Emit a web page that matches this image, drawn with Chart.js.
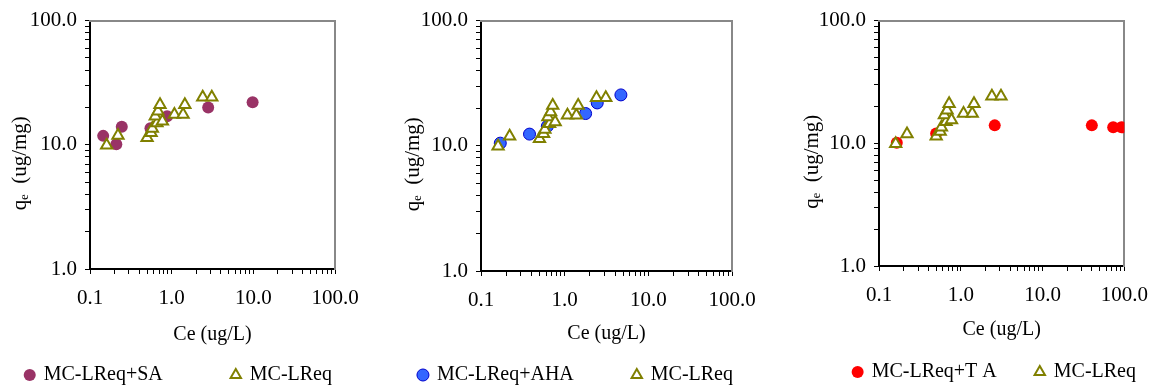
<!DOCTYPE html>
<html>
<head>
    <meta charset="UTF-8">
    <title>MC-LR adsorption isotherms</title>
    <script src="https://cdn.jsdelivr.net/npm/chart.js@4.4.1/dist/chart.umd.min.js"></script>
    <style type="text/css">
        body { margin: 0; background: #fff; }
        #wrap { position: relative; width: 1160px; height: 389px; }
        #wrap canvas { position: absolute; top: 0; }
    </style>
</head>
<body>

<div id="wrap">
    <canvas id="chartSA" width="390" height="389" style="left: 0px;"></canvas>
    <canvas id="chartAHA" width="380" height="389" style="left: 390px;"></canvas>
    <canvas id="chartTA" width="390" height="389" style="left: 770px;"></canvas>
</div>

<script>
    // axis decades and their labels
    const xDecades = [0.1, 1, 10, 100];
    const xTickLabels = ['0.1', '1.0', '10.0', '100.0'];
    const yDecades = [1, 10, 100];
    const yTickLabels = ['1.0', '10.0', '100.0'];

    // MC-LReq (same reference series in every panel)
    const lreqCe = [0.16, 0.22, 0.50, 0.56, 0.58, 0.66, 0.63, 0.68, 0.72, 0.77, 1.08, 1.38, 1.45, 2.4, 3.1];
    const lreqQe = [9.9, 11.9, 11.4, 12.5, 13.5, 15.0, 17.0, 18.6, 21.0, 15.5, 17.5, 17.5, 21.0, 24.2, 24.2];

    // MC-LReq+SA
    const saCe = [0.145, 0.21, 0.245, 0.55, 0.88, 2.8, 9.8];
    const saQe = [11.8, 10.1, 14.0, 13.6, 17.0, 20.0, 22.0];

    // MC-LReq+AHA
    const ahaCe = [0.17, 0.38, 0.62, 1.78, 2.45, 4.7];
    const ahaQe = [10.5, 12.4, 14.3, 18.1, 22.0, 25.5];

    // MC-LReq+TA
    const taCe = [0.165, 0.5, 2.6, 40, 73, 92];
    const taQe = [10.1, 12.0, 14.0, 14.0, 13.5, 13.5];

    const seriesLabels = ['MC-LReq+SA', 'MC-LReq+AHA', 'MC-LReq+T A', 'MC-LReq'];

    const FONT = 'Liberation Serif, Times New Roman, serif';

    function toPoints(xs, ys) {
        return xs.map((x, i) => ({ x: x, y: ys[i] }));
    }

    // 1..9 x each decade, like the original log axes
    function logTicks(decades) {
        const ticks = [];
        for (let i = 0; i < decades.length - 1; i++) {
            for (let m = 1; m < 10; m++) {
                ticks.push({ value: decades[i] * m, major: m === 1 });
            }
        }
        ticks.push({ value: decades[decades.length - 1], major: true });
        return ticks;
    }

    function makePanel(id, cfg) {
        new Chart(document.getElementById(id), {
            type: 'scatter',
            data: {
                datasets: [
                    {
                        label: cfg.label,
                        data: toPoints(cfg.ce, cfg.qe),
                        pointStyle: 'circle',
                        pointRadius: 6,
                        pointHoverRadius: 6,
                        backgroundColor: cfg.fill,
                        borderColor: cfg.edge,
                        borderWidth: cfg.edgeWidth,
                        order: 2
                    },
                    {
                        label: seriesLabels[3],
                        data: toPoints(lreqCe, lreqQe),
                        pointStyle: 'triangle',
                        pointRadius: 6.5,
                        pointHoverRadius: 6.5,
                        backgroundColor: '#ffffff',
                        borderColor: '#808000',
                        borderWidth: 2,
                        order: 1
                    }
                ]
            },
            options: {
                responsive: false,
                animation: false,
                events: [],
                layout: {
                    autoPadding: false,
                    padding: { left: cfg.padL, right: cfg.padR, top: 15, bottom: cfg.padB }
                },
                plugins: {
                    tooltip: { enabled: false },
                    legend: {
                        position: 'bottom',
                        align: 'end',
                        maxHeight: 28,
                        labels: {
                            usePointStyle: true,
                            boxWidth: 8,
                            boxHeight: 8.5,
                            padding: 4,
                            color: '#000',
                            font: { family: FONT, size: 20 },
                            generateLabels: function (chart) {
                                const items = Chart.defaults.plugins.legend.labels.generateLabels(chart);
                                items.sort((a, b) => a.datasetIndex - b.datasetIndex);
                                items[0].text += ' '.repeat(cfg.gap);
                                return items;
                            }
                        }
                    }
                },
                scales: {
                    x: {
                        type: 'logarithmic',
                        position: 'bottom',
                        min: xDecades[0],
                        max: xDecades[xDecades.length - 1],
                        afterBuildTicks: (axis) => { axis.ticks = logTicks(xDecades); },
                        afterFit: (axis) => { axis.height = cfg.xH; },
                        grid: { drawOnChartArea: false, drawTicks: true, tickLength: 5, color: '#000', tickColor: '#000' },
                        border: { display: true, color: '#000', width: 2 },
                        ticks: {
                            autoSkip: false,
                            maxRotation: 0,
                            padding: 12,
                            color: '#000',
                            font: { family: FONT, size: 21 },
                            callback: (v) => {
                                const i = xDecades.indexOf(v);
                                return i < 0 ? '' : xTickLabels[i];
                            }
                        },
                        title: {
                            display: true,
                            text: 'Ce (ug/L)',
                            color: '#000',
                            font: { family: FONT, size: 20 },
                            padding: { top: 0, bottom: cfg.titlePB }
                        }
                    },
                    y: {
                        type: 'logarithmic',
                        position: 'left',
                        min: yDecades[0],
                        max: yDecades[yDecades.length - 1],
                        afterBuildTicks: (axis) => { axis.ticks = logTicks(yDecades); },
                        afterFit: (axis) => { axis.width = cfg.yW; },
                        grid: { drawOnChartArea: false, drawTicks: true, tickLength: 5, color: '#000', tickColor: '#000' },
                        border: { display: true, color: '#000', width: 2 },
                        ticks: {
                            autoSkip: false,
                            padding: 8,
                            color: '#000',
                            font: { family: FONT, size: 21 },
                            callback: (v) => {
                                const i = yDecades.indexOf(v);
                                return i < 0 ? '' : yTickLabels[i];
                            }
                        },
                        title: {
                            display: true,
                            // trailing blanks push the label down a little, as in the original
                            text: 'q\u2091  (ug/mg)       ',
                            color: '#000',
                            font: { family: FONT, size: 21 },
                            padding: 0
                        }
                    },
                    // grey frame on top and right
                    x2: {
                        type: 'linear',
                        position: 'top',
                        min: 0,
                        max: 1,
                        afterFit: (axis) => { axis.height = 0; },
                        grid: { drawOnChartArea: false, drawTicks: false },
                        border: { display: true, color: '#888', width: 2 },
                        ticks: { display: false }
                    },
                    y2: {
                        type: 'linear',
                        position: 'right',
                        min: 0,
                        max: 1,
                        afterFit: (axis) => { axis.width = cfg.y2W; },
                        grid: { drawOnChartArea: false, drawTicks: false },
                        border: { display: true, color: '#888', width: 2 },
                        ticks: { display: false }
                    }
                }
            }
        });
    }

    makePanel('chartSA', {
        label: seriesLabels[0], ce: saCe, qe: saQe,
        fill: '#993366', edge: '#993366', edgeWidth: 0,
        padL: 8, padR: 54, padB: 0, yW: 82, y2W: 1, xH: 92, titlePB: 14, gap: 13
    });

    makePanel('chartAHA', {
        label: seriesLabels[1], ce: ahaCe, qe: ahaQe,
        fill: '#3366ff', edge: '#0000cc', edgeWidth: 1,
        padL: 11, padR: 33, padB: 0, yW: 80, y2W: 5, xH: 90, titlePB: 15, gap: 11
    });

    makePanel('chartTA', {
        label: seriesLabels[2], ce: taCe, qe: taQe,
        fill: '#ff0000', edge: '#ff0000', edgeWidth: 0,
        padL: 30, padR: 20, padB: 3, yW: 79, y2W: 13, xH: 92, titlePB: 16, gap: 7
    });
</script>
</body>
</html>
